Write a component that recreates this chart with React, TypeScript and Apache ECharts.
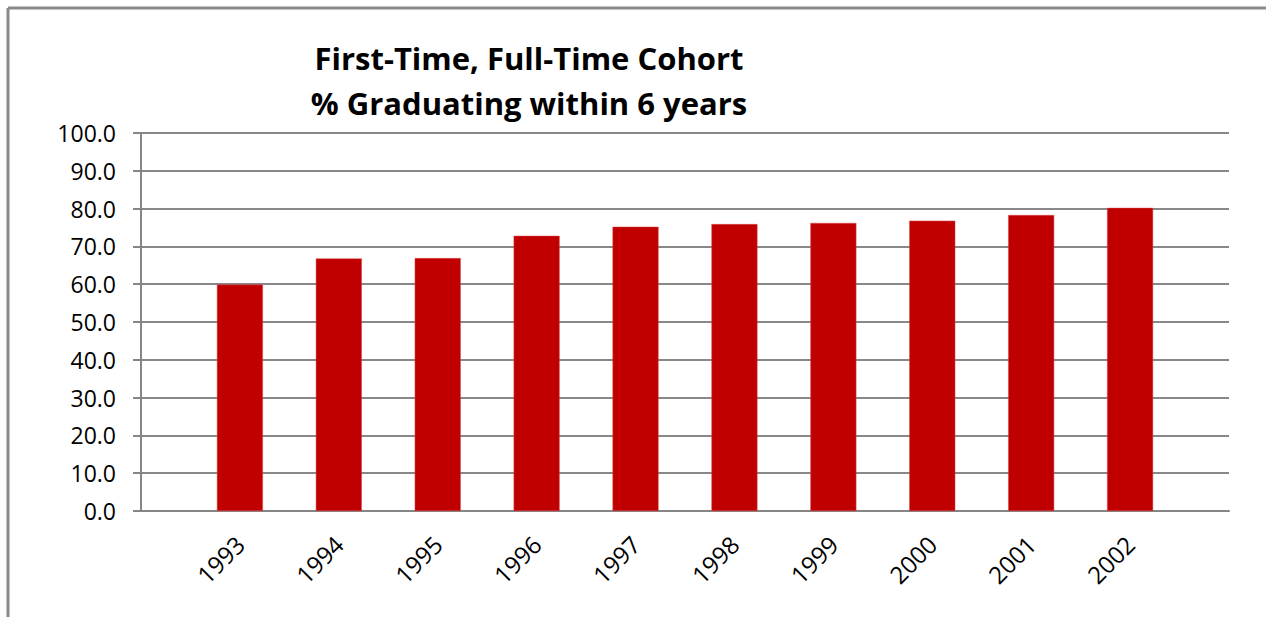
import React, { useEffect, useRef } from "react";
import * as echarts from "echarts";

const titleLines = ["First-Time, Full-Time Cohort", "% Graduating within 6 years"];
const years = ["1993", "1994", "1995", "1996", "1997", "1998", "1999", "2000", "2001", "2002"];
const graduationRates = [59.9, 66.8, 66.9, 72.8, 75.2, 75.9, 76.2, 76.8, 78.3, 80.2];
const yTicks = { min: 0, max: 100, interval: 10 };

export default function App() {
  const ref = useRef<HTMLDivElement>(null);
  useEffect(() => {
    if (!ref.current) return;
    const chart = echarts.init(ref.current, null, { renderer: "svg" });
    const cats = ["", ...years, ""];
    const vals = [null, ...graduationRates, null];
    chart.setOption({
      animation: false,
      backgroundColor: "#ffffff",
      title: {
        text: titleLines.join("\n"),
        left: 524,
        top: 30,
        textAlign: "center",
        textStyle: {
          fontFamily: "Open Sans",
          fontWeight: "bold",
          fontSize: 31,
          lineHeight: 45,
          color: "#000000",
        },
      },
      graphic: [
        {
          type: "line",
          shape: { x1: 8, y1: 8, x2: 1266, y2: 8 },
          style: { stroke: "#8a8a8a", lineWidth: 3 },
        },
        {
          type: "line",
          shape: { x1: 8, y1: 8, x2: 8, y2: 617 },
          style: { stroke: "#8a8a8a", lineWidth: 3 },
        },
      ],
      grid: { left: 141, right: 37, top: 133, bottom: 106, containLabel: false },
      xAxis: {
        type: "category",
        data: cats,
        boundaryGap: false,
        axisLine: { show: true, lineStyle: { color: "#868686", width: 2 } },
        axisTick: { show: false },
        splitLine: { show: false },
        axisLabel: {
          interval: 0,
          rotate: 45,
          margin: 29,
          fontFamily: "Open Sans",
          fontSize: 24,
          color: "#000000",
        },
      },
      yAxis: {
        type: "value",
        min: yTicks.min,
        max: yTicks.max,
        interval: yTicks.interval,
        axisLine: { show: true, lineStyle: { color: "#868686", width: 2 } },
        axisTick: { show: true, length: 8, lineStyle: { color: "#868686", width: 2 } },
        splitLine: { show: true, lineStyle: { color: "#888888", width: 2 } },
        axisLabel: {
          margin: 25,
          fontFamily: "Open Sans",
          fontSize: 23,
          color: "#000000",
          formatter: (v: number) => v.toFixed(1),
        },
      },
      series: [
        {
          type: "bar",
          data: vals,
          barWidth: 46,
          itemStyle: { color: "#C00000", borderColor: "#d9484a", borderWidth: 0.5 },
        },
      ],
    });
    return () => chart.dispose();
  }, []);
  return (
    <div
      ref={ref}
      style={{ position: "absolute", left: 0, top: 0, width: 1266, height: 617 }}
    />
  );
}
